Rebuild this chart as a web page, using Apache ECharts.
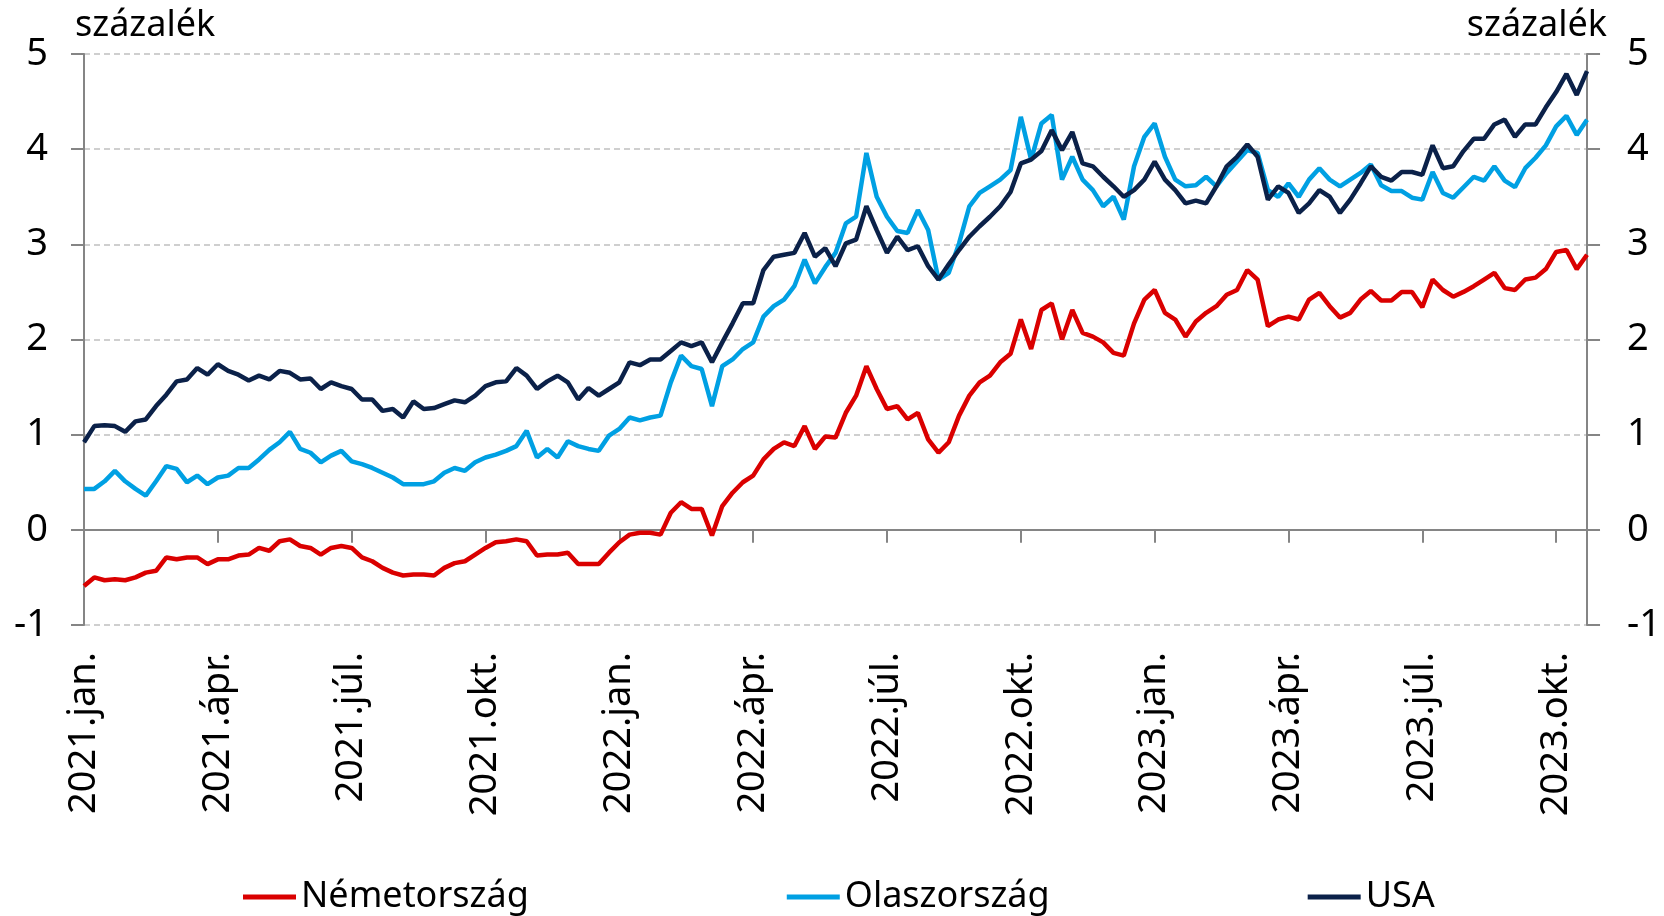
<!DOCTYPE html>
<html>
<head>
<meta charset="utf-8">
<title>Tízéves állampapírhozamok</title>
<script src="https://cdn.jsdelivr.net/npm/echarts@6/dist/echarts.min.js"></script>
<style>
  html, body { margin: 0; padding: 0; background: #fff; }
  #yields { width: 1664px; height: 916px; }
</style>
</head>
<body>
<div id="yields"></div>
<script>
// heti megfigyelések, 2021.01.01-től
const firstWeek = "2021-01-01";
const quarterLabels = ["2021.jan.", "2021.ápr.", "2021.júl.", "2021.okt.", "2022.jan.", "2022.ápr.",
  "2022.júl.", "2022.okt.", "2023.jan.", "2023.ápr.", "2023.júl.", "2023.okt."];

const germany = [
  -0.59, -0.50, -0.53, -0.52, -0.53, -0.50, -0.45, -0.43, -0.29, -0.31, -0.29, -0.29, -0.36, -0.31,
  -0.31, -0.27, -0.26, -0.19, -0.22, -0.12, -0.10, -0.17, -0.19, -0.26, -0.19, -0.17, -0.19,
  -0.29, -0.33, -0.40, -0.45, -0.48, -0.47, -0.47, -0.48, -0.40, -0.35, -0.33, -0.26, -0.19,
  -0.13, -0.12, -0.10, -0.12, -0.27, -0.26, -0.26, -0.24, -0.36, -0.36, -0.36, -0.24, -0.13,
  -0.05, -0.03, -0.03, -0.05, 0.18, 0.29, 0.22, 0.22, -0.06, 0.25, 0.39, 0.50, 0.57,
  0.74, 0.85, 0.92, 0.88, 1.09, 0.85, 0.98, 0.97, 1.23, 1.41, 1.72, 1.48, 1.27,
  1.30, 1.16, 1.23, 0.95, 0.81, 0.92, 1.20, 1.41, 1.55, 1.62, 1.76, 1.85, 2.21,
  1.90, 2.31, 2.38, 2.00, 2.31, 2.07, 2.03, 1.97, 1.86, 1.83, 2.17, 2.42, 2.52,
  2.28, 2.21, 2.03, 2.19, 2.28, 2.35, 2.47, 2.52, 2.73, 2.63, 2.14, 2.21,
  2.24, 2.21, 2.42, 2.49, 2.35, 2.23, 2.28, 2.42, 2.51, 2.41, 2.41, 2.50,
  2.50, 2.34, 2.63, 2.52, 2.45, 2.50, 2.56, 2.63, 2.70, 2.54, 2.52, 2.63,
  2.65, 2.74, 2.92, 2.94, 2.74, 2.89
];

const italy = [
  0.43, 0.43, 0.51, 0.62, 0.51, 0.43, 0.36, 0.51, 0.67, 0.64, 0.50, 0.57, 0.48, 0.55,
  0.57, 0.65, 0.65, 0.74, 0.84, 0.92, 1.03, 0.85, 0.81, 0.71, 0.78, 0.83, 0.72,
  0.69, 0.65, 0.60, 0.55, 0.48, 0.48, 0.48, 0.51, 0.60, 0.65, 0.62, 0.71, 0.76,
  0.79, 0.83, 0.88, 1.04, 0.76, 0.85, 0.76, 0.93, 0.88, 0.85, 0.83, 0.99, 1.06,
  1.18, 1.15, 1.18, 1.20, 1.55, 1.83, 1.72, 1.69, 1.30, 1.72, 1.79, 1.90, 1.97,
  2.24, 2.35, 2.42, 2.56, 2.84, 2.59, 2.76, 2.91, 3.22, 3.29, 3.96, 3.50, 3.29,
  3.14, 3.12, 3.36, 3.15, 2.63, 2.70, 3.01, 3.40, 3.54, 3.61, 3.68, 3.78, 4.34,
  3.89, 4.27, 4.36, 3.68, 3.92, 3.68, 3.57, 3.40, 3.50, 3.26, 3.82, 4.13, 4.27,
  3.92, 3.68, 3.61, 3.62, 3.71, 3.61, 3.75, 3.87, 3.99, 3.96, 3.57, 3.50,
  3.64, 3.50, 3.68, 3.80, 3.68, 3.61, 3.68, 3.75, 3.84, 3.62, 3.56, 3.56,
  3.49, 3.47, 3.76, 3.54, 3.49, 3.60, 3.71, 3.67, 3.82, 3.67, 3.60, 3.80,
  3.91, 4.04, 4.24, 4.35, 4.15, 4.31
];

const usa = [
  0.92, 1.09, 1.10, 1.09, 1.03, 1.14, 1.16, 1.30, 1.42, 1.56, 1.58, 1.70, 1.63, 1.74,
  1.67, 1.63, 1.57, 1.62, 1.58, 1.67, 1.65, 1.58, 1.59, 1.48, 1.55, 1.51, 1.48,
  1.37, 1.37, 1.25, 1.27, 1.18, 1.35, 1.27, 1.28, 1.32, 1.36, 1.34, 1.41, 1.51,
  1.55, 1.56, 1.70, 1.62, 1.48, 1.56, 1.62, 1.55, 1.37, 1.49, 1.41, 1.48, 1.55,
  1.76, 1.73, 1.79, 1.79, 1.88, 1.97, 1.93, 1.97, 1.76, 1.97, 2.17, 2.38, 2.38,
  2.73, 2.87, 2.89, 2.91, 3.12, 2.87, 2.96, 2.77, 3.01, 3.05, 3.40, 3.15, 2.91,
  3.08, 2.94, 2.98, 2.77, 2.63, 2.79, 2.94, 3.08, 3.19, 3.29, 3.40, 3.55, 3.85,
  3.89, 3.98, 4.20, 3.99, 4.18, 3.85, 3.82, 3.71, 3.61, 3.50, 3.57, 3.68, 3.87,
  3.68, 3.57, 3.43, 3.46, 3.43, 3.61, 3.82, 3.92, 4.05, 3.92, 3.47, 3.61,
  3.54, 3.33, 3.43, 3.57, 3.50, 3.33, 3.47, 3.64, 3.82, 3.71, 3.67, 3.76,
  3.76, 3.73, 4.04, 3.80, 3.82, 3.98, 4.11, 4.11, 4.26, 4.31, 4.13, 4.26,
  4.26, 4.44, 4.60, 4.79, 4.57, 4.82
];

// kategóriák: a hetek kezdőnapjai
const weeks = [];
const d0 = new Date(firstWeek + "T00:00:00Z");
for (let i = 0; i < usa.length; i++) {
  const d = new Date(d0.getTime() + i * 7 * 86400000);
  weeks.push(d.toISOString().slice(0, 10));
}

const FONT = "Noto Sans";
const gray = "#858585";

let myChart = echarts.init(document.getElementById("yields"));

const yAxisBase = {
  type: "value",
  min: -1,
  max: 5,
  interval: 1,
  name: "százalék",
  nameLocation: "end",
  nameGap: 10,
  axisLine: { show: true, lineStyle: { color: gray, width: 2 } },
  axisTick: { show: true, length: 13, lineStyle: { color: gray, width: 2 } },
  axisLabel: { fontSize: 38, color: "#000", fontFamily: FONT },
};

const option = {
  animation: false,
  color: ["#DA0000", "#00A0E3", "#0B2149"],
  grid: { left: 84, right: 75, top: 54, bottom: 291 },
  legend: {
    data: ["Németország", "Olaszország", "USA"],
    left: 238,
    top: 874,
    icon: "rect",
    itemWidth: 53,
    itemHeight: 5,
    itemGap: 258,
    textStyle: { fontSize: 36, color: "#000", fontFamily: FONT },
  },
  xAxis: {
    type: "category",
    data: weeks,
    boundaryGap: false,
    axisLine: { onZero: true, lineStyle: { color: gray, width: 2 } },
    axisTick: { interval: 12, length: 13, lineStyle: { color: gray, width: 2 } },
    axisLabel: {
      interval: 12,
      rotate: 90,
      margin: 27,
      fontSize: 38,
      color: "#000",
      fontFamily: FONT,
      formatter: (value, idx) => quarterLabels[Math.round(idx / 13)] || "",
    },
    splitLine: { show: false },
  },
  yAxis: [
    Object.assign({}, yAxisBase, {
      position: "left",
      nameTextStyle: { fontSize: 36, color: "#000", fontFamily: FONT, align: "left", padding: [0, 0, 0, -9] },
      axisLabel: Object.assign({}, yAxisBase.axisLabel, { margin: 36 }),
      splitLine: { show: true, lineStyle: { color: "#c0c0c0", type: [6, 4], width: 1.5 } },
    }),
    Object.assign({}, yAxisBase, {
      position: "right",
      nameTextStyle: { fontSize: 36, color: "#000", fontFamily: FONT, align: "right", padding: [0, -20, 0, 0] },
      axisLabel: Object.assign({}, yAxisBase.axisLabel, { margin: 40 }),
      splitLine: { show: false },
    }),
  ],
  series: [
    { name: "Németország", type: "line", data: germany, showSymbol: false, lineStyle: { width: 4.5 } },
    { name: "Olaszország", type: "line", data: italy, showSymbol: false, lineStyle: { width: 4.5 } },
    { name: "USA", type: "line", data: usa, showSymbol: false, lineStyle: { width: 4.5 } },
  ],
};

myChart.setOption(option, true);
</script>
</body>
</html>
